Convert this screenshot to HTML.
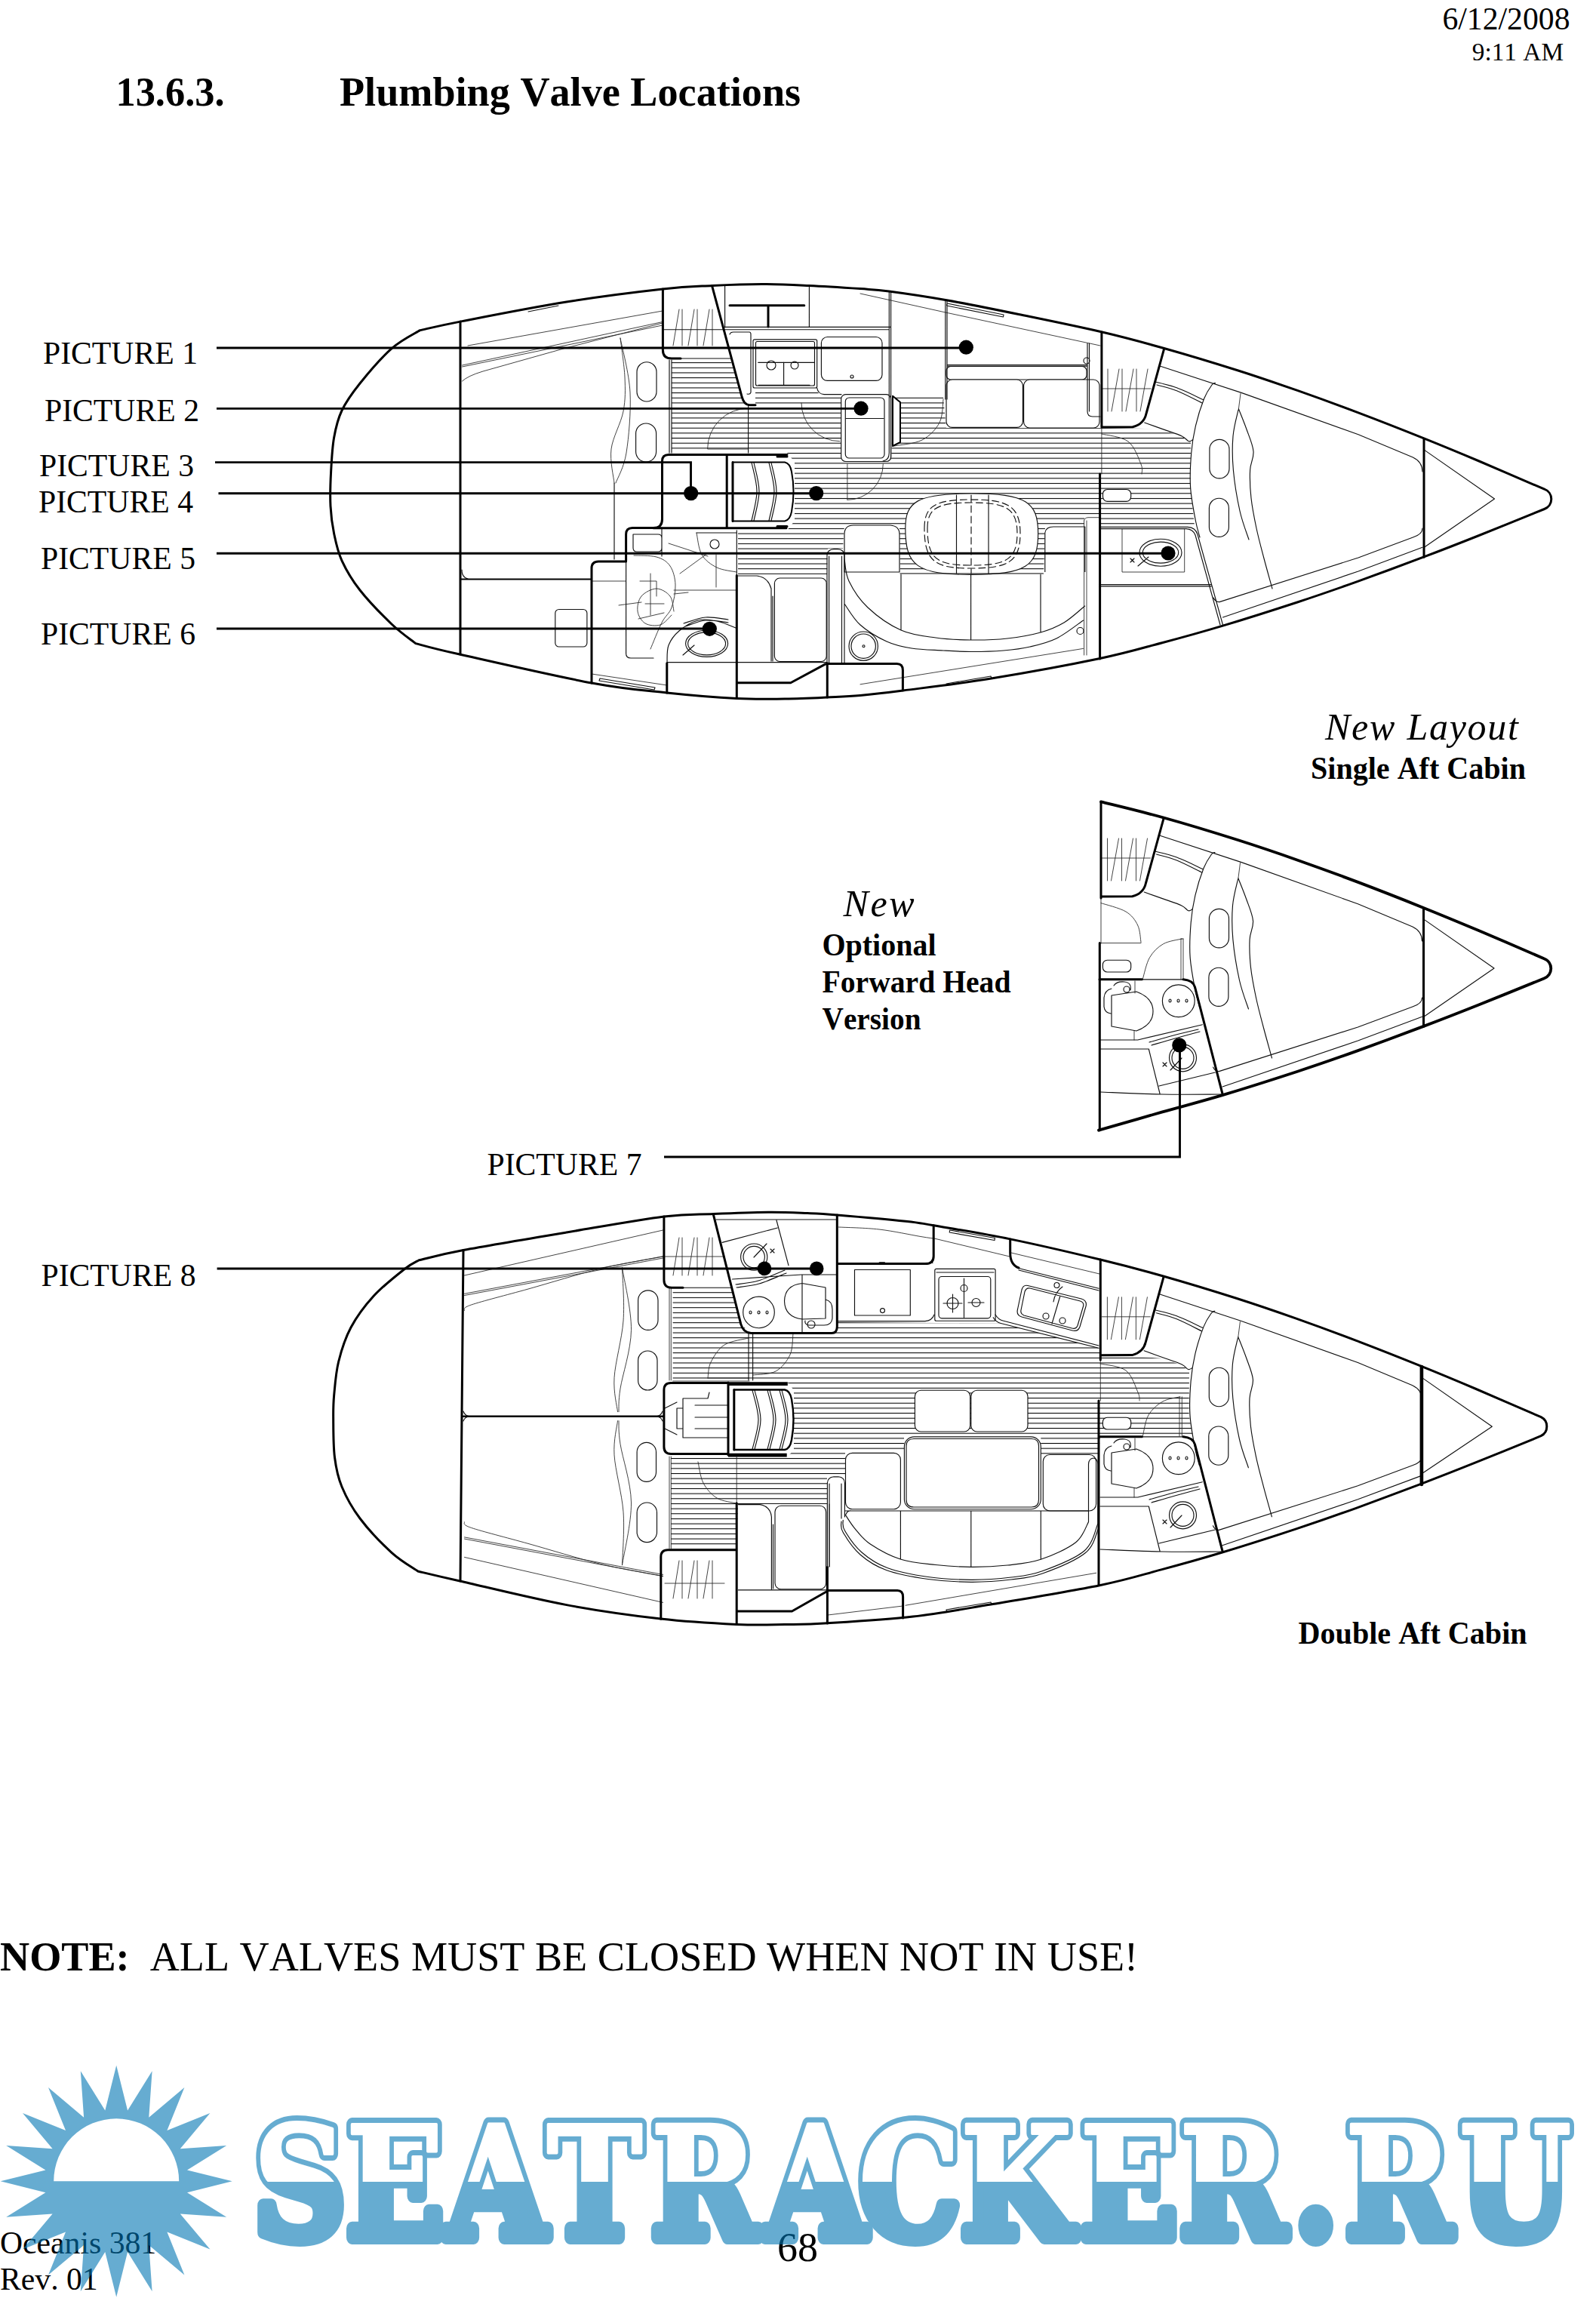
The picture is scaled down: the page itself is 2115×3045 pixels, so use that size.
<!DOCTYPE html>
<html lang="en"><head><meta charset="utf-8"><title>Plumbing Valve Locations</title>
<style>
html,body{margin:0;padding:0;background:#fff}
body{width:2115px;height:3045px;overflow:hidden;position:relative}
svg{position:absolute;left:0;top:0;display:block}
text{font-family:"Liberation Serif","DejaVu Serif",serif;fill:#000;font-kerning:none}
.b{font-weight:bold}.i{font-style:italic}
.K{fill:none;stroke:#000;stroke-width:3;stroke-linecap:round;stroke-linejoin:round}
.M{fill:none;stroke:#000;stroke-width:2;stroke-linecap:round;stroke-linejoin:round}
.T{fill:none;stroke:#111;stroke-width:1.15;stroke-linecap:round;stroke-linejoin:round}
.t{fill:none;stroke:#222;stroke-width:0.85;stroke-linecap:round;stroke-linejoin:round}
.WF{fill:#fff;stroke:#111;stroke-width:1.15;stroke-linejoin:round}
.L{fill:none;stroke:#000;stroke-width:2.9}
.D{fill:#000}
.wo{font-family:'DejaVu Serif','Liberation Serif',serif;font-weight:bold;fill:#0076b2;stroke:#0076b2;stroke-width:18;stroke-linejoin:round}
.wi{font-family:'DejaVu Serif','Liberation Serif',serif;font-weight:bold;fill:#fff;stroke:#fff;stroke-width:4;stroke-linejoin:round}
</style></head><body>
<svg width="2115" height="3045" viewBox="0 0 2115 3045">
<defs>
<pattern id="fl" x="0" y="0.6" width="40" height="6.66" patternUnits="userSpaceOnUse"><rect x="0" y="0" width="40" height="1.05" fill="#000"/></pattern>
</defs>

<g id="hull1">
<path d="M890 477L968 477L983 525L992 537L1001 537L1001 519L1082 519L1090 524L1115 524L1115 612L1181 612L1184 526L1250 526L1254 567L1458 567L1517 568L1541 570L1566 578L1578 586L1577.6 645L1583 697L1458 697L1458 684L1437 684L1437 698L1385 698L1383 760L1193 760L1192 696L1119 696L1117 727L1097 727L1096 761L978 761L978 703L1043 703L1053 690L1053 612L1043 600L890 600Z" fill="url(#fl)"/>
<g><g class="WF"><path d="M1199.8 700C1199.8 665 1215 654 1287 654C1360 654 1375.7 665 1375.7 707C1375.7 750 1360 761.3 1287 761.3C1215 761.3 1199.8 750 1199.8 700Z"/><path d="M1183 524.7L1193 533V586L1183 591Z"/><rect x="1461.5" y="648.5" width="37.2" height="15.8" rx="6"/><rect x="998" y="449.8" width="84.7" height="64.2" rx="2"/><rect x="1001.5" y="452.5" width="78" height="58.5" rx="2"/><rect x="1088.4" y="446.5" width="80.6" height="57.9" rx="8"/><rect x="1114.7" y="522.6" width="65.9" height="88.9" rx="6"/><rect x="1120.3" y="527" width="51.7" height="80" rx="5"/><rect x="1254" y="485.5" width="186" height="17.5" rx="6"/><rect x="1254" y="503" width="101.4" height="63.4" rx="8"/><rect x="1356.6" y="503" width="100.4" height="64" rx="8"/><rect x="735.8" y="807.5" width="42.1" height="49.5" rx="5"/><rect x="1026.4" y="766" width="68.8" height="110.5" rx="7"/><path d="M1119 758V708Q1119 696 1131 696H1180Q1192 697 1192 708V758Z"/><path d="M1384.8 758V706Q1386 698 1396 698H1437.8V758"/><rect x="844" y="479.7" width="26" height="52.3" rx="13"/><rect x="842.6" y="561" width="27" height="51" rx="13.5"/><rect x="1602.9" y="582.4" width="26.1" height="51.5" rx="13"/><rect x="1602.4" y="660.2" width="26" height="51.2" rx="13"/></g><path class="t" d="M1140 389L1253 414L1458 458M1250 529C1249.2 534.2 1249.7 551 1245 560C1240.3 569 1232 577.8 1222 583C1212 588.2 1191.2 589.7 1185 591M1062 534A50.8 50.8 0 0 0 1112.8 584.7M1170.3 615A47.4 47.4 0 0 1 1122.9 662.4M1122.9 615V662M991.6 541A54 54 0 0 0 937.6 595H991M900 410L892 458M904 410V458M920 410L912 458M924 410V458M940 410L932 458M944 410V458M840 736C845 736.3 862 735.7 870 738C878 740.3 883.8 743.8 888 750C892.2 756.2 894.7 765.8 895 775C895.3 784.2 893 796.7 890 805C887 813.3 881.7 815.8 877 825C872.3 834.2 864.5 854.2 862 860M893 810C892.2 806.7 891.8 795 888 790C884.2 785 876.3 780 870 780C863.7 780 854.2 785 850 790C845.8 795 844.2 804 845 810C845.8 816 850 823 855 826C860 829 869.2 829.8 875 828C880.8 826.2 887.5 817.2 890 815M848 770H870V790M855 800H880M862 760V815M846 820L880 812M820 802L850 798M886 720L938 737M901 760L938 733M949 735V778M893 787L912 785M923 706C924.2 710.8 925.5 727.3 930 735C934.5 742.7 942.3 748.2 950 752C957.7 755.8 971.7 757 976 758M893 782H976M1436.6 690V868M1440 690V868M1436.6 690Q1437 686 1442 685.7H1457M1140 906.8L1435.5 859.4M1459.9 566V628M1460 575C1465.8 576.7 1486.3 578.3 1495 585C1503.7 591.7 1509 607.8 1512 615C1515 622.2 1512.8 625.8 1513 628M1487.4 700.6H1569.7V758H1487.4ZM612.5 505Q620 498 640 492L747.8 461.7L878 428M612.5 486L878 431M612.5 484L878 426.5M620 458L878 412M822 448C823 456.7 827.3 483.8 828 500C828.7 516.2 829 529.2 826 545C823 560.8 812 579.2 810 595C808 610.8 813.3 632.5 814 640M822 448C824.2 460 833.7 494.7 835 520C836.3 545.3 833.2 580 830 600C826.8 620 818.3 633.3 816 640M784 893L884 908M784 770H829M1468 489V545M1473 545L1483 489M1487 489V545M1492 545L1502 489M1506 489V545M1511 545L1521 489M1461 515H1525M1644 521.5L1641.4 541.8"/><path class="T" d="M996 613C997.2 619.3 1003 638.2 1003 651C1003 663.8 997.2 683.5 996 690M999 613C1000.2 619.3 1006 638.2 1006 651C1006 663.8 1000.2 683.5 999 690M1019 613C1020.2 619.3 1026 638.2 1026 651C1026 663.8 1020.2 683.5 1019 690M1022 613C1023.2 619.3 1029 638.2 1029 651C1029 663.8 1023.2 683.5 1022 690M960.6 379V434M960.6 433.3H1180M878 436.7H1178M1072.4 379V433M902 475H968M890 477V600M887 477V600M991.6 537V600M1004.7 480.3H1079M1038.6 480V510M1005 510.4H1073M1016 484a6 6 0 1 0 12 0a6 6 0 1 0 -12 0M1048 484a5 5 0 1 0 10 0a5 5 0 1 0 -10 0M967 443Q968 440 972 440H993Q995 440 995 443V520Q994 523 990 522M1127 499a2 2 0 1 0 4 0a2 2 0 1 0 -4 0M1178.3 386V600Q1178.3 610 1170 611M1180.6 386V608M1121 554.5H1171M1082.7 514Q1084 522 1092 522.6H1115M1252.8 397V529M1255 398V529M1255 483.6H1441M1255 485.2H1441M1441 455V545Q1441 552 1448 552H1458M1443.5 455V545M1436 478a4 4 0 1 0 8 0a4 4 0 1 0 -8 0M976.3 702.8V762.6M877 699V737M839 708H872Q877 708 877 713V726Q877 731 872 731H844Q839 731 839 726ZM829.6 743V866Q829.6 872 836 872H866M814 640V741M884 877.6H1096M884 878C884.3 874.2 883.3 862 886 855C888.7 848 893.5 841.5 900 836C906.5 830.5 916.7 824.2 925 822C933.3 819.8 941.7 821.3 950 823C958.3 824.7 970.8 830.5 975 832M908.6 852.8a28 17.6 0 1 0 56 0a28 17.6 0 1 0 -56 0M911.6 852.8a25 15 0 1 0 50 0a25 15 0 1 0 -50 0M905 868L920 855M906 826C910.8 824.7 925.2 818.8 935 818C944.8 817.2 960 820.5 965 821M908 830C912.5 828.7 925.5 822.8 935 822C944.5 821.2 960 824.5 965 825M941 721a6 6 0 1 0 12 0a6 6 0 1 0 -12 0M923 706H976M978 763H1003Q1018 765 1022 780V876M1024 790V876M1096 879V735Q1097 728 1105 727.6H1110Q1118 728 1119 735V879M1098.6 879V737M1115.5 879V737M1193 760H1382.5M1194 761.3V835M1286.6 761.3V848M1379 761.3V838M1119 740C1120 745 1119.8 759.2 1125 770C1130.2 780.8 1138.5 794.2 1150 805C1161.5 815.8 1179 828.3 1194 835C1209 841.7 1224.6 842.8 1240 845C1255.4 847.2 1270.8 847.8 1286.6 848C1302.4 848.2 1319.6 847.7 1335 846C1350.4 844.3 1366.5 841.5 1379 838C1391.5 834.5 1400.2 830.8 1410 825C1419.8 819.2 1433 806.7 1437.6 803M1119 800C1122.5 804.7 1130.7 819.7 1140 828C1149.3 836.3 1163.7 844.8 1175 850C1186.3 855.2 1195.5 857 1208 859C1220.5 861 1236.9 861.2 1250 862C1263.1 862.8 1273.3 863.5 1286.6 863.5C1299.9 863.5 1316.9 863.1 1330 862C1343.1 860.9 1353.3 859.7 1365 857C1376.7 854.3 1388.2 851.8 1400 846C1411.8 840.2 1429.6 826 1435.5 822M1125 856.2a19.2 19.2 0 1 0 38.4 0a19.2 19.2 0 1 0 -38.4 0M1128 856.2a16.2 16.2 0 1 0 32.4 0a16.2 16.2 0 1 0 -32.4 0M1143 856.2a1.5 1.5 0 1 0 3 0a1.5 1.5 0 1 0 -3 0M1427 836a4.5 4.5 0 1 0 9 0a4.5 4.5 0 1 0 -9 0M1254 906L1313 896L1314 899M1267.5 656V760M1310 656V760M1459 698.4H1574Q1584 699 1587 708L1620.5 828M1459 700.6H1572Q1581 701 1584 709L1617 828M1510 732.2a28 18 0 1 0 56 0a28 18 0 1 0 -56 0M1514.3 732.2a23.7 14 0 1 0 47.4 0a23.7 14 0 1 0 -47.4 0M1508 750L1522 738M1498 740l5 5m0 -5l-5 5M1457 774.6H1604.7M1457 776.9H1605M612 755Q612 765 620 767M795 899L868 911L867 914L794 902ZM1255 402L1330 417L1329.5 420L1254.5 405ZM700 413L740 405M1610.5 507.5C1609.8 507.9 1608.5 506.5 1606 510C1603.5 513.5 1599.2 519.2 1595.6 528.3C1592 537.4 1587.2 552.4 1584.4 564.4C1581.6 576.4 1579.8 587 1578.7 600.5C1577.6 614 1576.6 630.7 1577.6 645.6C1578.5 660.5 1582.3 678.9 1584.4 690C1586.5 701.1 1589.1 708.3 1590 712M1537 485L1645 520.4L1800 575.7L1872.4 606Q1885 612 1885 625M1885 700Q1885 708 1872.4 712L1800 739L1616 797.6Q1611 798 1608 792M1885 725.3L1800 757L1620.5 818M1531 506C1535.8 507.3 1549.3 510 1560 514C1570.7 518 1589.2 527.3 1595 530M1533 510C1537.5 511.3 1550 514 1560 518C1570 522 1587.5 531.3 1593 534M1516.7 560C1520.8 561.5 1533.2 565.9 1541.5 568.9C1549.8 571.9 1560.7 575.3 1566.3 577.9C1571.9 580.5 1572.8 584 1575.3 584.7C1577.8 585.5 1580 582.8 1581 582.4M1641.4 541.8C1643.2 546.3 1648.7 559.6 1652 569C1655.3 578.4 1660.2 589 1661 598C1661.8 607 1657.1 612.7 1656.6 623C1656.1 633.3 1656.6 647.2 1658 660C1659.4 672.8 1662.2 686.7 1665 700C1667.8 713.3 1671.5 726.7 1675 740C1678.5 753.3 1684.2 773.3 1686 780M1641 543C1639.8 548.8 1635.1 564.7 1634 578C1632.9 591.3 1632.9 606.5 1634.4 623C1635.9 639.5 1639.6 661.7 1643 677C1646.4 692.3 1653 708.7 1655 715M1888 596.6L1980.5 661L1888 724.7"/><path class="K" d="M610 426V867M878.4 383V464Q878.4 475 890 475H902M943.6 378.8L983 525.4Q986 536.7 993 536.7H1001M1043 602.4H886Q877.5 602.4 877.5 611V688Q877.5 699.5 866 699.5H838Q829.6 699.5 829.6 708V743M866 699.7H1042M963.2 602.4V699.7M829.6 744H793Q784 744 784 753V905M976.3 762.6V925M1096.3 878.7V924M1096.3 879.4H1188.5Q1196.4 879.4 1196.4 888V914.7M976.3 904.7H1047.8L1094 879.9M883.8 878.7V918M1459.9 440V566M1457.6 628V873M967 404.7H1065.8M1018 405V433M971 612.6V690.4M1030 605H1043M1030 697.5H1043M1542.6 462.4L1519 548Q1516 562 1501 565.8L1460 566M1887 582V738.3"/></g>
<path class="M" d="M1183 524.7L1193 533V586L1183 591ZM610 767.5H784M971 612.6H1040Q1047 614 1049 625Q1054 651 1049 678Q1047 689 1040 690.4H971"/>
<path class="T" stroke-dasharray="9 5" d="M1225 700C1225 670 1240 662 1287 662C1335 662 1352 670 1352 707C1352 745 1335 753 1287 753C1240 753 1225 745 1225 700ZM1229 700C1229 673 1243 666 1287 666C1332 666 1348 673 1348 707C1348 742 1332 749 1287 749C1243 749 1229 742 1229 700ZM1287 656V760"/>
<path class="K" d="M556.8 437.6C566.1 435.6 580.2 431.9 612.5 425.6C644.8 419.3 706.5 407.1 750.8 400C795.1 392.9 846.2 386.6 878.4 383C910.6 379.4 922.1 379.6 944 378.5C965.9 377.4 988.7 376.5 1010 376.5C1031.3 376.5 1050.3 377.5 1072 378.5C1093.7 379.5 1122.3 381.4 1140 382.6C1157.7 383.9 1159.2 383.5 1178 386C1196.8 388.5 1224.3 392.4 1253 397.5C1281.7 402.6 1315.6 409.4 1350 416.5C1384.4 423.6 1427.4 432.3 1459.5 439.8C1491.6 447.3 1512.5 453 1542.6 461.5C1572.7 470 1610.4 481.4 1640 490.8C1669.6 500.2 1693.3 508.4 1720 517.7C1746.7 527.1 1772.2 536.4 1800 546.9C1827.8 557.4 1860.3 570.2 1887 580.9C1913.7 591.6 1933.4 599.8 1960 611C1986.6 622.2 2032.2 642 2046.6 648.2A14 14 0 0 1 2046.6 674.5C2032.2 680.3 1986.6 698.9 1960 709.5C1933.4 720.1 1913.7 727.8 1887 737.9C1860.3 748 1827.8 760.1 1800 770.1C1772.2 780.1 1749.9 787.9 1720 797.7C1690.1 807.5 1650.5 820.1 1620.5 829.1C1590.5 838.1 1567.2 844.5 1540 851.7C1512.8 858.9 1495.3 864.6 1457.6 872.5C1419.9 880.4 1357.2 891.9 1313.7 899C1270.2 906.1 1225.8 911.2 1196.8 915C1167.8 918.8 1156.8 920 1140 921.5C1123.2 923 1112.7 923.2 1096 924C1079.3 924.8 1060 925.8 1040 926C1020 926.2 1002 926.8 976 925.5C950 924.2 915.8 921.4 883.8 918C851.8 914.6 830 913.5 784 905C738 896.5 646.9 875.5 608 866.8C569.1 858.1 560.3 855 550.8 852.6C545.5 848.3 531.3 838.8 519 827C506.7 815.2 488 796 477 782C466 768 458.7 755.4 453 742.9C447.3 730.4 445.1 718.8 442.6 706.8C440.1 694.8 438.7 684.2 438 670.7C437.3 657.2 437.8 640.7 438.6 625.6C439.4 610.5 440.2 593.6 442.6 580C445 566.4 447.3 556 453 544C458.7 532 466 521.7 477 508C488 494.3 505.9 473.4 519.2 461.7C532.5 450 550.5 441.6 556.8 437.6Z"/>
<path class="L" d="M287 461H1280M287 541.4H1141M285 612.6H915.5V653M289.5 653.8H1081.5M287 733.3H1548M287 833H940"/>
<circle class="D" cx="1280.3" cy="460.2" r="9.6"/>
<circle class="D" cx="1141" cy="541.2" r="9.6"/>
<circle class="D" cx="915.7" cy="653.6" r="9.6"/>
<circle class="D" cx="1081.7" cy="653.6" r="9.6"/>
<circle class="D" cx="1548" cy="733" r="9.6"/>
<circle class="D" cx="940.3" cy="833.3" r="9.6"/>
</g>
<g id="inset">
<g transform="translate(-0.5 622)"><g class="WF"><rect x="1602.9" y="582.4" width="26.1" height="51.5" rx="13"/><rect x="1602.4" y="660.2" width="26" height="51.2" rx="13"/></g><path class="t" d="M1468 489V545M1473 545L1483 489M1487 489V545M1492 545L1502 489M1506 489V545M1511 545L1521 489M1461 515H1525M1644 521.5L1641.4 541.8"/><path class="T" d="M1610.5 507.5C1609.8 507.9 1608.5 506.5 1606 510C1603.5 513.5 1599.2 519.2 1595.6 528.3C1592 537.4 1587.2 552.4 1584.4 564.4C1581.6 576.4 1579.8 587 1578.7 600.5C1577.6 614 1576.6 630.7 1577.6 645.6C1578.5 660.5 1582.3 678.9 1584.4 690C1586.5 701.1 1589.1 708.3 1590 712M1537 485L1645 520.4L1800 575.7L1872.4 606Q1885 612 1885 625M1885 700Q1885 708 1872.4 712L1800 739L1616 797.6Q1611 798 1608 792M1885 725.3L1800 757L1620.5 818M1531 506C1535.8 507.3 1549.3 510 1560 514C1570.7 518 1589.2 527.3 1595 530M1533 510C1537.5 511.3 1550 514 1560 518C1570 522 1587.5 531.3 1593 534M1516.7 560C1520.8 561.5 1533.2 565.9 1541.5 568.9C1549.8 571.9 1560.7 575.3 1566.3 577.9C1571.9 580.5 1572.8 584 1575.3 584.7C1577.8 585.5 1580 582.8 1581 582.4M1641.4 541.8C1643.2 546.3 1648.7 559.6 1652 569C1655.3 578.4 1660.2 589 1661 598C1661.8 607 1657.1 612.7 1656.6 623C1656.1 633.3 1656.6 647.2 1658 660C1659.4 672.8 1662.2 686.7 1665 700C1667.8 713.3 1671.5 726.7 1675 740C1678.5 753.3 1684.2 773.3 1686 780M1641 543C1639.8 548.8 1635.1 564.7 1634 578C1632.9 591.3 1632.9 606.5 1634.4 623C1635.9 639.5 1639.6 661.7 1643 677C1646.4 692.3 1653 708.7 1655 715M1888 596.6L1980.5 661L1888 724.7"/><path class="K" d="M1542.6 462.4L1519 548Q1516 562 1501 565.8L1460 566M1887 582V738.3"/></g>
<g><g class="WF"><rect x="1461.4" y="1272.2" width="37.3" height="15.8" rx="6"/></g><path class="t" d="M1504 1300V1316M1503 1366V1378"/><path class="T" d="M1513 1297.8H1568M1458 1378H1507.7L1593.4 1357.8M1458 1390H1522.3L1537 1449M1458 1447C1471.7 1447.5 1513.3 1449.5 1540 1450C1566.7 1450.5 1605 1450 1618 1450M1535.9 1439L1610.3 1421M1549.5 1401.8a18 18 0 1 0 36 0a18 18 0 1 0 -36 0M1553 1401.8a14.5 14.5 0 1 0 29 0a14.5 14.5 0 1 0 -29 0M1551 1418L1566 1402M1541 1408l5 5m0 -5l-5 5M1523 1381C1528.3 1379.5 1544.2 1374.8 1555 1372C1565.8 1369.2 1582.5 1365.3 1588 1364M1526 1385C1531.2 1383.5 1546.3 1379 1557 1376C1567.7 1373 1584.5 1368.5 1590 1367M1540.4 1326.2a21.4 21.4 0 1 0 42.8 0a21.4 21.4 0 1 0 -42.8 0M1549 1326a1.5 2 0 1 0 3 0a1.5 2 0 1 0 -3 0M1560 1326a1.5 2 0 1 0 3 0a1.5 2 0 1 0 -3 0M1571 1326a1.5 2 0 1 0 3 0a1.5 2 0 1 0 -3 0M1473 1319L1506 1314Q1528 1322 1528 1340Q1528 1358 1506 1366L1473 1360ZM1473 1310Q1464 1312 1463 1322V1334Q1464 1342 1472 1343M1476 1306Q1480 1300 1490 1301Q1500 1302 1498 1312M1489 1311a4 4 0 1 0 8 0a4 4 0 1 0 -8 0"/><path class="K" d="M1457 1297.8H1513.3M1568 1297.8Q1581 1299 1583.5 1308L1620.3 1450.5"/></g>
<g><path class="t" d="M1459 1190V1250M1459 1196.6C1464.5 1198.5 1483.9 1203.1 1492 1208C1500.1 1212.9 1504.4 1219.2 1507.7 1226C1511 1232.8 1511.3 1244.8 1512 1248.5M1457 1249.6H1512M1566.3 1244C1562.2 1245.1 1548.6 1246.7 1541.5 1250.8C1534.4 1254.9 1528 1261.1 1523.5 1268.8C1519 1276.5 1515.9 1292.3 1514.4 1297M1565 1244V1298M1568 1244V1298M1565 1244H1568"/><path class="K" d="M1459 1062.4V1190M1457.3 1249.6V1497.7"/></g>
<path class="K" style="stroke-width:3.8" d="M1459 1062.4C1472.8 1065.9 1512 1075.1 1542.1 1083.5C1572.2 1091.9 1609.9 1103.4 1639.5 1112.8C1669.1 1122.2 1692.8 1130.3 1719.5 1139.7C1746.2 1149.1 1771.7 1158.4 1799.5 1168.9C1827.3 1179.4 1859.8 1192.2 1886.5 1202.9C1913.2 1213.6 1932.9 1221.8 1959.5 1233C1986.1 1244.2 2031.7 1264 2046.1 1270.2A14 14 0 0 1 2046.1 1296.5C2031.7 1302.3 1986.1 1320.9 1959.5 1331.5C1932.9 1342.1 1913.2 1349.8 1886.5 1359.9C1859.8 1370 1827.3 1382.1 1799.5 1392.1C1771.7 1402.1 1749.4 1409.9 1719.5 1419.7C1689.6 1429.5 1650 1442.1 1620 1451.1C1590 1460.1 1566.8 1465.9 1539.5 1473.7C1512.2 1481.5 1469.9 1493.7 1456 1497.7"/>
<path class="L" d="M880 1533H1563.5V1385"/>
<circle class="D" cx="1562.8" cy="1384.9" r="9.6"/>
</g>
<g id="hull2">
<path d="M891.6 1707L969.8 1707L981.8 1754.7L995.3 1767L1101.4 1768L1109.3 1760L1109.3 1752L1326 1753.5L1456 1786.3L1458 1797.8L1515 1798L1539 1800L1564 1808L1576 1816L1575.6 1875L1581 1903L1458 1903L1456 1927L1379.3 1927L1379.3 1904L1198 1904L1198 1925L1120 1925L1120 1957L1096 1957L1096 1993L978 1993L976 2052L889 2052L889 1930L1043 1930L1052 1922L1052 1842L1043 1831L891.6 1831Z" fill="url(#fl)"/>
<path d="M965 1831.2H1043.8V1836H965ZM965 1925.8H1042.7V1930.6H965Z" fill="#000"/>
<g transform="translate(-0.6 1229.8)"><g class="WF"><rect x="1602.9" y="582.4" width="26.1" height="51.5" rx="13"/><rect x="1602.4" y="660.2" width="26" height="51.2" rx="13"/></g><path class="t" d="M1468 489V545M1473 545L1483 489M1487 489V545M1492 545L1502 489M1506 489V545M1511 545L1521 489M1461 515H1525M1644 521.5L1641.4 541.8"/><path class="T" d="M1610.5 507.5C1609.8 507.9 1608.5 506.5 1606 510C1603.5 513.5 1599.2 519.2 1595.6 528.3C1592 537.4 1587.2 552.4 1584.4 564.4C1581.6 576.4 1579.8 587 1578.7 600.5C1577.6 614 1576.6 630.7 1577.6 645.6C1578.5 660.5 1582.3 678.9 1584.4 690C1586.5 701.1 1589.1 708.3 1590 712M1537 485L1645 520.4L1800 575.7L1872.4 606Q1885 612 1885 625M1885 700Q1885 708 1872.4 712L1800 739L1616 797.6Q1611 798 1608 792M1885 725.3L1800 757L1620.5 818M1531 506C1535.8 507.3 1549.3 510 1560 514C1570.7 518 1589.2 527.3 1595 530M1533 510C1537.5 511.3 1550 514 1560 518C1570 522 1587.5 531.3 1593 534M1516.7 560C1520.8 561.5 1533.2 565.9 1541.5 568.9C1549.8 571.9 1560.7 575.3 1566.3 577.9C1571.9 580.5 1572.8 584 1575.3 584.7C1577.8 585.5 1580 582.8 1581 582.4M1641.4 541.8C1643.2 546.3 1648.7 559.6 1652 569C1655.3 578.4 1660.2 589 1661 598C1661.8 607 1657.1 612.7 1656.6 623C1656.1 633.3 1656.6 647.2 1658 660C1659.4 672.8 1662.2 686.7 1665 700C1667.8 713.3 1671.5 726.7 1675 740C1678.5 753.3 1684.2 773.3 1686 780M1641 543C1639.8 548.8 1635.1 564.7 1634 578C1632.9 591.3 1632.9 606.5 1634.4 623C1635.9 639.5 1639.6 661.7 1643 677C1646.4 692.3 1653 708.7 1655 715"/><path class="K" d="M1542.6 462.4L1519 548Q1516 562 1501 565.8L1460 566"/></g>
<g transform="translate(0 606)"><g class="WF"><rect x="1461.4" y="1272.2" width="37.3" height="15.8" rx="6"/></g><path class="t" d="M1504 1300V1316M1503 1366V1378"/><path class="T" d="M1513 1297.8H1568M1458 1378H1507.7L1593.4 1357.8M1458 1390H1522.3L1537 1449M1458 1447C1471.7 1447.5 1513.3 1449.5 1540 1450C1566.7 1450.5 1605 1450 1618 1450M1535.9 1439L1610.3 1421M1549.5 1401.8a18 18 0 1 0 36 0a18 18 0 1 0 -36 0M1553 1401.8a14.5 14.5 0 1 0 29 0a14.5 14.5 0 1 0 -29 0M1551 1418L1566 1402M1541 1408l5 5m0 -5l-5 5M1523 1381C1528.3 1379.5 1544.2 1374.8 1555 1372C1565.8 1369.2 1582.5 1365.3 1588 1364M1526 1385C1531.2 1383.5 1546.3 1379 1557 1376C1567.7 1373 1584.5 1368.5 1590 1367M1540.4 1326.2a21.4 21.4 0 1 0 42.8 0a21.4 21.4 0 1 0 -42.8 0M1549 1326a1.5 2 0 1 0 3 0a1.5 2 0 1 0 -3 0M1560 1326a1.5 2 0 1 0 3 0a1.5 2 0 1 0 -3 0M1571 1326a1.5 2 0 1 0 3 0a1.5 2 0 1 0 -3 0M1473 1319L1506 1314Q1528 1322 1528 1340Q1528 1358 1506 1366L1473 1360ZM1473 1310Q1464 1312 1463 1322V1334Q1464 1342 1472 1343M1476 1306Q1480 1300 1490 1301Q1500 1302 1498 1312M1489 1311a4 4 0 1 0 8 0a4 4 0 1 0 -8 0"/><path class="K" d="M1457 1297.8H1513.3M1568 1297.8Q1581 1299 1583.5 1308L1620.3 1450.5"/></g>
<g><g class="WF"><rect x="1212.4" y="1842.2" width="73.3" height="54.8" rx="8"/><rect x="1286.8" y="1842.2" width="75.2" height="54.8" rx="8"/><rect x="1198.4" y="1903.8" width="180.9" height="95.9" rx="13"/><rect x="1120.5" y="1925.3" width="72.9" height="74.4" rx="9"/><rect x="1382.3" y="1927.5" width="70.3" height="74.5" rx="9"/><rect x="1238.8" y="1681.4" width="80.3" height="68.8" rx="2"/><rect x="1244" y="1691.5" width="68.8" height="55.3" rx="4"/><rect x="1027" y="1995.2" width="67.6" height="110.5" rx="8"/><rect x="845.6" y="1709.8" width="26.4" height="52.6" rx="13.2"/><rect x="845.6" y="1790" width="25.4" height="52" rx="12.7"/><rect x="844.1" y="1991" width="26.4" height="52.6" rx="13.2"/><rect x="844.1" y="1911.4" width="25.4" height="52" rx="12.7"/></g><path class="t" d="M1111.5 1626C1120.4 1626.5 1146.9 1626.9 1165 1629C1183.1 1631.1 1208 1636.5 1220 1638.5C1232 1640.5 1234.2 1640.6 1237 1641M1238 1641L1338 1665M1340 1660L1457 1688M1200 2127.2L1452.6 2084.3M1196.6 2128L1097 2140M1096.4 1993V2076M1099 1993V2076M992 1773C986.7 1774.5 968.3 1776.7 960 1782C951.7 1787.3 945.7 1797.7 942 1805C938.3 1812.3 938.7 1822.5 938 1826M938 1826H992M1051 1767C1050.3 1771.7 1050.8 1786.7 1047 1795C1043.2 1803.3 1036.2 1812.5 1028 1817C1019.8 1821.5 1002.7 1821.2 997.6 1822M925 1937C926.2 1941.7 927.8 1957 932 1965C936.2 1973 942.7 1980.5 950 1985C957.3 1989.5 971.7 1990.8 976 1992M891.6 1830H993M889.300 1707V1829M887 1707V1829M889.300 1930V2052M887 1930V2052M976.2 1930V1991.8M615.5 1690L878.6 1630M615.5 1714.3L878.6 1664.7M615.5 1716.5L878.6 1667M615.5 1736.8C617 1735.5 610.4 1733.8 624.5 1729C638.6 1724.2 671.4 1716 700 1708C728.6 1700 766.2 1688.2 796 1681C825.8 1673.8 864.8 1667.7 878.6 1665M824.5 1679.7C824.8 1691.4 827.8 1725.7 826 1750C824.2 1774.3 815.2 1805.5 814 1825.6C812.8 1845.7 817.8 1863.2 818.5 1870.7M824.5 1679.7C826.5 1693.5 836.9 1735.7 836.5 1762.4C836.1 1789.1 824.8 1822 822 1840C819.2 1858 820.3 1865.6 820 1870.7M900 1640L892 1690M904 1640V1690M920 1640L912 1690M924 1640V1690M940 1640L932 1690M944 1640V1690M881 1665H960M615.5 2063.4L878.6 2123.4M615.5 2039.1L878.6 2088.7M615.5 2036.9L878.6 2086.4M615.5 2016.6C617 2017.9 610.4 2019.6 624.5 2024.4C638.6 2029.2 671.4 2037.4 700 2045.4C728.6 2053.4 766.2 2065.2 796 2072.4C825.8 2079.6 864.8 2085.7 878.6 2088.4M824.5 2073.7C824.8 2062 827.8 2027.7 826 2003.4C824.2 1979.1 815.2 1947.9 814 1927.8C812.8 1907.7 817.8 1890.2 818.5 1882.7M824.5 2073.7C826.5 2059.9 836.9 2017.7 836.5 1991C836.1 1964.3 824.8 1931.5 822 1913.4C819.2 1895.4 820.3 1887.8 820 1882.7M900 2068L892 2118M904 2068V2118M920 2068L912 2118M924 2068V2118M940 2068L932 2118M944 2068V2118M881 2098H960M1458.3 1802V1856M1458 1807C1463.7 1808.5 1483.7 1809.7 1492 1816C1500.3 1822.3 1505 1838.3 1508 1845C1511 1851.7 1509.7 1854.2 1510 1856M1564 1850.8C1560.2 1851.8 1548 1853 1541 1857C1534 1861 1526.4 1867.4 1522 1875C1517.6 1882.6 1515.7 1898 1514.4 1902.6M1563 1850.8V1903M1566.300 1850.8V1903"/><path class="T" d="M1201 1916Q1201 1906.5 1211 1906.5H1367Q1376.5 1906.5 1376.5 1916V1987Q1376.5 1997 1367 1997H1211Q1201 1997 1201 1987ZM949 1616H1108M1029 1617L1045 1676.8M957 1646.4L1030.3 1627M981.6 1665.6a17.6 17.6 0 1 0 35.2 0a17.6 17.6 0 1 0 -35.2 0M985 1665.6a14.2 14.2 0 1 0 28.4 0a14.2 14.2 0 1 0 -28.4 0M999 1666L1016 1648M1021 1655l5 5m0 -5l-5 5M984.7 1738.9a20.8 20.8 0 1 0 41.6 0a20.8 20.8 0 1 0 -41.6 0M993 1739a1.5 2 0 1 0 3 0a1.5 2 0 1 0 -3 0M1004 1739a1.5 2 0 1 0 3 0a1.5 2 0 1 0 -3 0M1015 1739a1.5 2 0 1 0 3 0a1.5 2 0 1 0 -3 0M970.5 1695L1062 1689H1108M1063 1689V1766M975 1702C980 1701.2 994.2 1700.2 1005 1697C1015.8 1693.8 1034.2 1685.3 1040 1683M976 1706C981 1705.2 995 1704.2 1006 1701C1017 1697.8 1036 1689.3 1042 1687M1063 1700.5L1094 1706V1747L1063 1748Q1040 1745 1039.5 1724Q1040 1703 1063 1700.5ZM1094 1722Q1103 1724 1103 1735V1747Q1102 1756 1092 1756H1072Q1066 1755 1067 1750M1070 1755a5 5 0 1 0 10 0a5 5 0 1 0 -10 0M1132.5 1682.5H1206.3V1743H1132.5ZM1166.5 1736.6a3 3 0 1 0 6 0a3 3 0 1 0 -6 0M1109.3 1750.6H1226Q1235 1750 1238 1742M1241 1686H1317M1277.5 1694V1746M1255 1727a7.5 7.5 0 1 0 15 0a7.5 7.5 0 1 0 -15 0M1273 1707a4.5 4.5 0 1 0 9 0a4.5 4.5 0 1 0 -9 0M1288 1726a5.5 5.5 0 1 0 11 0a5.5 5.5 0 1 0 -11 0M1250 1727H1275M1262.500 1715V1739M1283 1726H1304M1316.2 1745.7Q1320 1752 1326.3 1753.5L1456 1786.3M1319 1742Q1323 1748.5 1329 1750L1456 1783M1348.9 1680.2L1456 1707.3M1350 1683L1456 1710M1362 1703.5L1433 1721Q1441 1723.5 1439 1731L1431 1758Q1428.500 1765 1421 1763L1354 1745Q1346.500 1742.500 1348.500 1735L1354 1709Q1356 1702 1362 1703.500ZM1365 1707L1431.500 1724Q1437 1726 1435.500 1731L1428 1756.500Q1426 1761.500 1420.500 1760L1357 1743Q1352 1741 1353 1736L1358 1711.500Q1360 1706 1365 1707ZM1405 1717L1394 1754M1397 1703a3.5 3.5 0 1 0 7 0a3.5 3.5 0 1 0 -7 0M1396 1725Q1398 1712 1408 1705M1382 1744a4 4 0 1 0 8 0a4 4 0 1 0 -8 0M1404 1750a4 4 0 1 0 8 0a4 4 0 1 0 -8 0M1258.7 1630L1318.4 1640.5L1318 1643.500L1258.200 1633ZM1111 1673.500H1236M1120 2002H1442.5M1286.8 2002V2076M1379.3 2002V2066M1193.4 2002V2066M1096.4 2076V1965Q1097 1957.500 1105 1956.800H1111Q1119 1957.500 1119.4 1965V2010M1099 2076V1966M1115 2012V1966M1120.5 2007.6C1122.6 2010.6 1127.5 2019.2 1133 2025.6C1138.5 2032 1143.1 2039.2 1153.3 2046C1163.5 2052.8 1179.5 2061.7 1193.9 2066.3C1208.4 2070.9 1224.5 2071.8 1240 2073.5C1255.5 2075.2 1271 2076.3 1286.8 2076.4C1302.6 2076.5 1319.6 2075.7 1335 2074C1350.4 2072.3 1364.2 2071.4 1379.3 2066.3C1394.4 2061.2 1415.1 2052 1425.6 2043.7C1436.1 2035.4 1439.7 2021.1 1442.5 2016.6M1442.5 2016.6V1940Q1443 1932.500 1449 1932Q1454.500 1932.500 1454.900 1940V2018.9M1117.2 2014.4C1117.6 2016.7 1115.3 2020.9 1119.4 2028C1123.5 2035.1 1132.6 2048.8 1142 2057C1151.4 2065.2 1161.1 2072.1 1175.8 2077.5C1190.5 2082.9 1211.5 2086.9 1230 2089.5C1248.5 2092.1 1268.5 2093.2 1286.8 2093.3C1305.1 2093.4 1324.4 2091.9 1340 2090C1355.6 2088.1 1364.3 2087.8 1380.5 2082C1396.7 2076.2 1424.5 2065.5 1436.9 2055C1449.3 2044.5 1451.9 2024.9 1454.9 2018.9M1115 2016C1115.3 2018.3 1112.8 2022.7 1117 2030C1121.2 2037.3 1130.4 2051.6 1140 2060C1149.6 2068.4 1159.5 2075.1 1174.5 2080.5C1189.5 2085.9 1211.3 2089.9 1230 2092.5C1248.7 2095.1 1268.5 2096.2 1286.8 2096.3C1305.1 2096.4 1324.2 2094.9 1340 2093C1355.8 2091.1 1365.1 2090.9 1381.5 2085C1397.9 2079.1 1426.1 2067.7 1438.5 2057.5C1450.9 2047.3 1453.1 2029.6 1456 2024M1254 2133L1313 2123L1314 2126L1255 2136ZM1120.5 2007.6Q1123 2001 1128 2002M978.4 1993.6H1007Q1021 1996 1022.4 2010V2105.7M1024.500 2020V2105M978.4 2106.9H1096M992 1767V1829M997.6 1767V1829M905 1706.2H968M905 1853H938L940 1845M905 1853V1905H965M921 1862H965M921 1878H965M921 1893H965M897 1866H905M897 1866V1893H905M881 1866L897 1858M881 1893L897 1901M878.600 1876.700H860M997 1842C998.3 1848.5 1005 1867.9 1005 1881C1005 1894.1 998.3 1913.9 997 1920.5M1000 1842C1001.3 1848.5 1008 1867.9 1008 1881C1008 1894.1 1001.3 1913.9 1000 1920.5M1017 1842C1018.3 1848.5 1025 1867.9 1025 1881C1025 1894.1 1018.3 1913.9 1017 1920.5M1020 1842C1021.3 1848.5 1028 1867.9 1028 1881C1028 1894.1 1021.3 1913.9 1020 1920.5M1033 1842C1034.3 1848.5 1041 1867.9 1041 1881C1041 1894.1 1034.3 1913.9 1033 1920.5M1036 1842C1037.3 1848.5 1044 1867.9 1044 1881C1044 1894.1 1037.3 1913.9 1036 1920.5M614 1870Q616 1876 622 1876.700M614 1883Q616 1877.500 622 1876.700M878 1870Q876 1876 870 1876.700M878 1883Q876 1877.500 870 1876.700"/><path class="K" d="M614 1656.5L610 2095M879.9 1612V1696Q879.9 1706.2 890 1706.2H905M945.3 1609.2L981.8 1754.7Q985 1766 995.3 1766.5H1101.4Q1109.3 1767 1109.3 1758V1610M965 1832.5H889Q879.9 1832.5 879.9 1842V1917Q879.9 1926.4 889 1926.4H965M965 1832V1928M976 2053.8H885Q875.8 2053.8 875.8 2063V2145.2M976.2 1991.8V2152M1096.4 2076.4V2151M1096.4 2107.5H1189.3Q1196.6 2107.5 1196.6 2116V2144M976.2 2135H1049.5L1095.7 2108.7M1237.2 1623.8V1664.4Q1237.2 1674.6 1226 1674.6H1109.3M1338.7 1641.9V1660Q1338.7 1676 1350 1680M1458.3 1669V1802M1456 1856V2100M972.8 1841.5V1921"/></g>
<path class="M" style="stroke-width:2.4" d="M614 1876.7H878.6M1165.7 1673.5H1172M972.8 1841.5H1040Q1047 1843 1049 1854Q1054 1881 1049 1908Q1047 1919.500 1040 1921H972.8"/>
<path class="K" d="M555.3 1669.8C565.1 1667.6 581.4 1662.6 614 1656.5C646.6 1650.4 706.5 1640.4 750.8 1633C795.1 1625.6 847.5 1616.1 880 1612C912.5 1607.9 922.7 1609.5 945.7 1608.5C968.7 1607.5 997.3 1606.4 1018 1606.2C1038.7 1606 1054.8 1606.9 1070 1607.5C1085.2 1608.1 1087.6 1608.1 1109.3 1609.9C1131 1611.7 1178.7 1615.9 1200 1618.2C1221.3 1620.5 1214.1 1619.8 1237.2 1623.8C1260.3 1627.8 1301.7 1634.3 1338.7 1641.9C1375.7 1649.5 1425.2 1661.1 1459 1669.3C1492.8 1677.5 1511.7 1682.5 1541.5 1691C1571.4 1699.5 1608.9 1710.9 1638.3 1720.3C1667.6 1729.7 1691.2 1737.8 1717.7 1747.2C1744.2 1756.6 1769.5 1765.9 1797.2 1776.4C1824.8 1786.9 1857.1 1799.7 1883.6 1810.4C1910.1 1821.1 1929.7 1829.3 1956.1 1840.5C1982.5 1851.7 2027.8 1871.5 2042.1 1877.7A14 14 0 0 1 2042.1 1902.7C2027.8 1908.5 1982.5 1927.1 1956.1 1937.7C1929.7 1948.3 1910.1 1956 1883.6 1966.1C1857.1 1976.2 1824.8 1988.3 1797.2 1998.3C1769.5 2008.3 1747.4 2016.1 1717.7 2025.9C1688 2035.7 1648.7 2048.3 1618.9 2057.3C1589.1 2066.3 1565.9 2072.7 1538.9 2079.9C1512 2087.1 1494.8 2093 1457.1 2100.7C1419.4 2108.4 1354 2119.1 1312.8 2126C1271.6 2132.9 1246 2137.9 1210 2142C1174 2146.1 1125.2 2149 1096.9 2150.8C1068.6 2152.6 1060.2 2152.3 1040 2152.6C1019.9 2152.9 1003.4 2153.7 976 2152.4C948.6 2151.1 913.1 2149.3 875.6 2145C838.1 2140.7 795.1 2134.9 750.8 2126.6C706.4 2118.3 642.3 2102.4 609.5 2095C576.7 2087.6 563.1 2084.2 553.8 2082C548 2077.9 531.8 2069.1 519 2057.4C506.2 2045.7 488 2026.6 477 2012C466 1997.4 458.6 1983.5 453 1970C447.4 1956.5 445.4 1946 443.5 1931C441.6 1916 441.8 1893.6 441.7 1880C441.6 1866.4 441.5 1862.2 442.6 1849.6C443.8 1837 444.9 1819.6 448.6 1804.5C452.3 1789.4 457.2 1773.5 465 1759C472.8 1744.5 483.4 1730.2 495.2 1717.3C507 1704.4 525.8 1689.7 535.8 1681.8C545.8 1673.9 552 1671.8 555.3 1669.8Z"/>
<path class="K" style="stroke-width:4.6" d="M1883.9 1811V1967"/>
<path class="T" d="M1886 1826.6L1977.3 1890.2L1886 1951.5"/>
<path class="L" d="M287.6 1681H1082"/>
<circle class="D" cx="1013" cy="1680.9" r="9.3"/>
<circle class="D" cx="1082.2" cy="1680.9" r="9.3"/>
</g>
<text x="2080.5" y="38.5" font-size="41.7" text-anchor="end">6/12/2008</text>
<text x="2072" y="80" font-size="33.3" text-anchor="end">9:11 AM</text>
<text x="153.5" y="140.3" font-size="54.2" class="b" textLength="144" lengthAdjust="spacingAndGlyphs">13.6.3.</text>
<text x="450" y="140.3" font-size="54.2" class="b">Plumbing Valve Locations</text>
<text x="57" y="482" font-size="41.7">PICTURE 1</text>
<text x="59" y="558.4" font-size="41.7">PICTURE 2</text>
<text x="52" y="631" font-size="41.7">PICTURE 3</text>
<text x="51" y="679" font-size="41.7">PICTURE 4</text>
<text x="54" y="753.6" font-size="41.7">PICTURE 5</text>
<text x="54" y="854" font-size="41.7">PICTURE 6</text>
<text x="645.5" y="1556.9" font-size="41.7">PICTURE 7</text>
<text x="54.5" y="1704.2" font-size="41.7">PICTURE 8</text>
<text x="1756" y="980.3" font-size="50" class="i" textLength="256" lengthAdjust="spacing">New Layout</text>
<text x="1737" y="1032.3" font-size="41.7" class="b" textLength="285" lengthAdjust="spacingAndGlyphs">Single Aft Cabin</text>
<text x="1117.5" y="1213.6" font-size="50" class="i" textLength="94" lengthAdjust="spacing">New</text>
<text x="1089.5" y="1265.6" font-size="41.7" class="b" textLength="151" lengthAdjust="spacingAndGlyphs">Optional</text>
<text x="1089.5" y="1315" font-size="41.7" class="b" textLength="250" lengthAdjust="spacingAndGlyphs">Forward Head</text>
<text x="1089.5" y="1363.5" font-size="41.7" class="b" textLength="131" lengthAdjust="spacingAndGlyphs">Version</text>
<text x="1720.6" y="2177.8" font-size="41.7" class="b" textLength="303" lengthAdjust="spacingAndGlyphs">Double Aft Cabin</text>
<text x="0" y="2610.5" font-size="54.2" xml:space="preserve"><tspan class="b">NOTE:</tspan>  ALL VALVES MUST BE CLOSED WHEN NOT IN USE!</text>
<text x="0" y="2985.5" font-size="41.7">Oceanis 381</text>
<text x="0" y="3034" font-size="41.7">Rev. 01</text>
<text x="1030" y="2996" font-size="54">68</text>
<defs><clipPath id="ct"><rect x="300" y="2780" width="1815" height="111"/></clipPath><clipPath id="cb"><rect x="300" y="2891" width="1815" height="120"/></clipPath></defs>
<g id="wm" opacity="0.6">
<path d="M154.2 2736.8L139.3 2796.5L106.8 2744.3L111.1 2805.7L64 2766.1L87 2823.1L30 2800.1L69.6 2847.2L8.2 2842.9L60.4 2875.4L0.7 2890.3L60.4 2905.2L8.2 2937.7L69.6 2933.4L30 2980.5L87 2957.5L64 3014.5L111.1 2974.9L106.8 3036.3L139.3 2984.1L154.2 3043.8L169.1 2984.1L201.6 3036.3L197.3 2974.9L244.4 3014.5L221.4 2957.5L278.4 2980.5L238.8 2933.4L300.2 2937.7L248 2905.2L307.7 2890.3L248 2875.4L300.2 2842.9L238.8 2847.2L278.4 2800.1L221.4 2823.1L244.4 2766.1L197.3 2805.7L201.6 2744.3L169.1 2796.5ZM71.2 2890.3A83 83 0 0 1 237.2 2890.3Z" fill="#0076b2" fill-rule="evenodd"/>
<g clip-path="url(#ct)"><text class="wo" transform="scale(0.83,1)" x="404.2 552.3 713.3 873 1038.8 1223 1370.4 1533.2 1724 1882.8 2065.2 2147.7 2329.5" y="2964.6" font-size="205.5">SEATRACKER.RU</text><text class="wi" transform="scale(0.83,1)" x="404.2 552.3 713.3 873 1038.8 1223 1370.4 1533.2 1724 1882.8 2065.2 2147.7 2329.5" y="2964.6" font-size="205.5">SEATRACKER.RU</text></g>
<g clip-path="url(#cb)"><text class="wo" transform="scale(0.83,1)" x="404.2 552.3 713.3 873 1038.8 1223 1370.4 1533.2 1724 1882.8 2065.2 2147.7 2329.5" y="2964.6" font-size="205.5">SEATRACKER.RU</text></g>
</g>
</svg></body></html>
